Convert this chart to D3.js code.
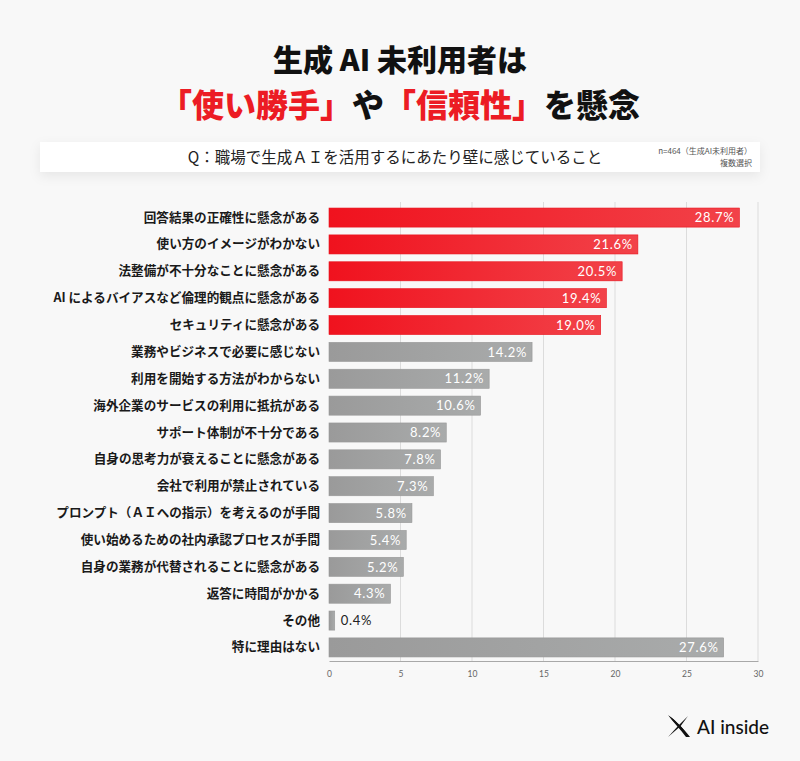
<!DOCTYPE html>
<html>
<head>
	<meta charset="utf-8">
	<title></title>
	<style>
		body { margin: 0; background: #f8f8f8; }
		svg { display: block; }
	</style>
</head>
<body>
	<svg id="container" height="761" width="800"></svg>
</body>
<script src="https://d3js.org/d3.v7.min.js"></script>
<script>
	let categories = [
		"回答結果の正確性に懸念がある",
		"使い方のイメージがわかない",
		"法整備が不十分なことに懸念がある",
		"AI によるバイアスなど倫理的観点に懸念がある",
		"セキュリティに懸念がある",
		"業務やビジネスで必要に感じない",
		"利用を開始する方法がわからない",
		"海外企業のサービスの利用に抵抗がある",
		"サポート体制が不十分である",
		"自身の思考力が衰えることに懸念がある",
		"会社で利用が禁止されている",
		"プロンプト（ＡＩへの指示）を考えるのが手間",
		"使い始めるための社内承認プロセスが手間",
		"自身の業務が代替されることに懸念がある",
		"返答に時間がかかる",
		"その他",
		"特に理由はない"
	]
	let values = [28.7, 21.6, 20.5, 19.4, 19.0, 14.2, 11.2, 10.6, 8.2, 7.8, 7.3, 5.8, 5.4, 5.2, 4.3, 0.4, 27.6]
	// top five are drawn in red
	let highlighted = categories.slice(0, 5)
	let ticks = [0, 5, 10, 15, 20, 25, 30]

	let jp = "'Noto Sans CJK JP', sans-serif"
	let num = "Lato, 'DejaVu Sans', sans-serif"

	let svg = d3.select("#container")
	let defs = svg.append("defs")

	let redGrad = defs.append("linearGradient").attr("id", "red")
	redGrad.append("stop").attr("offset", "0%").attr("stop-color", "#f0121e")
	redGrad.append("stop").attr("offset", "100%").attr("stop-color", "#f24249")
	let grayGrad = defs.append("linearGradient").attr("id", "gray")
	grayGrad.append("stop").attr("offset", "0%").attr("stop-color", "#9a9a9a")
	grayGrad.append("stop").attr("offset", "100%").attr("stop-color", "#a9abab")

	let shadow = defs.append("filter").attr("id", "shadow")
		.attr("x", "-5%").attr("y", "-50%").attr("width", "110%").attr("height", "250%")
	shadow.append("feDropShadow")
		.attr("dx", 0).attr("dy", 4).attr("stdDeviation", 6)
		.attr("flood-color", "#000").attr("flood-opacity", 0.07)

	// title
	svg.append("text")
		.attr("x", 400).attr("y", 71)
		.attr("text-anchor", "middle")
		.style("font-family", jp).style("font-weight", 900)
		.style("font-size", "30px").attr("fill", "#111")
		.text("生成 AI 未利用者は")

	let t2 = svg.append("text")
		.attr("x", 400).attr("y", 117)
		.attr("text-anchor", "middle")
		.style("font-family", jp).style("font-weight", 900)
		.style("font-size", "32px")
	t2.append("tspan").attr("fill", "#ec1c24").text("「使い勝手」")
	t2.append("tspan").attr("fill", "#111").text("や")
	t2.append("tspan").attr("fill", "#ec1c24").text("「信頼性」")
	t2.append("tspan").attr("fill", "#111").text("を懸念")

	// question box
	svg.append("rect")
		.attr("x", 40).attr("y", 142).attr("width", 720).attr("height", 30)
		.attr("fill", "#fff").attr("filter", "url(#shadow)")
	svg.append("text")
		.attr("x", 395).attr("y", 163)
		.attr("text-anchor", "middle")
		.style("font-family", jp).style("font-size", "15.5px")
		.attr("fill", "#222")
		.text("Q：職場で生成ＡＩを活用するにあたり壁に感じていること")
	svg.append("text")
		.attr("x", 752).attr("y", 154)
		.attr("text-anchor", "end")
		.style("font-family", jp).style("font-size", "8px")
		.attr("fill", "#555")
		.text("n=464（生成AI未利用者）")
	svg.append("text")
		.attr("x", 752).attr("y", 166)
		.attr("text-anchor", "end")
		.style("font-family", jp).style("font-size", "8px")
		.attr("fill", "#555")
		.text("複数選択")

	// chart
	let chartLeft = 329, chartRight = 758, chartTop = 204, chartBottom = 661

	let x = d3.scaleLinear().domain([0, 30]).range([chartLeft, chartRight])
	let y = d3.scaleBand().domain(categories).range([chartTop, chartBottom]).paddingInner(0.29).paddingOuter(0.15)

	let body = svg.append("g")

	body.selectAll(".grid")
		.data(ticks.slice(1))
		.enter().append("line")
		.attr("x1", d => x(d)).attr("x2", d => x(d))
		.attr("y1", chartTop - 2).attr("y2", chartBottom)
		.attr("stroke", "#dcdcdc").attr("stroke-width", 1)

	body.selectAll(".bar")
		.data(categories)
		.enter().append("rect")
		.attr("x", x(0))
		.attr("y", d => y(d))
		.attr("height", y.bandwidth())
		.attr("width", (d, i) => x(values[i]) - x(0))
		.attr("fill", d => highlighted.includes(d) ? "url(#red)" : "url(#gray)")
		.attr("stroke", d => highlighted.includes(d) ? "#e8131d" : "#979797")
		.attr("stroke-width", 0.6)

	body.selectAll(".value")
		.data(categories)
		.enter().append("text")
		.attr("x", (d, i) => x(values[i]) - x(0) > 30 ? x(values[i]) - 5 : x(values[i]) + 6)
		.attr("y", d => y(d) + y.bandwidth() / 2)
		.attr("dy", "0.36em")
		.attr("text-anchor", (d, i) => x(values[i]) - x(0) > 30 ? "end" : "start")
		.style("font-family", num).style("font-size", "13px")
		.style("letter-spacing", "0.7px")
		.attr("fill", (d, i) => x(values[i]) - x(0) > 30 ? "#fff" : "#222")
		.text((d, i) => values[i].toFixed(1) + "%")

	let yAxis = body.append("g")
		.attr("transform", `translate(${chartLeft - 9},0)`)
		.call(d3.axisLeft(y).tickSize(0).tickPadding(0))
	yAxis.select(".domain").remove()
	yAxis.selectAll("text")
		.style("font-family", jp).style("font-size", "12.6px").style("font-weight", 700)
		.attr("fill", "#1a1a1a")

	let xAxis = body.append("g")
		.attr("transform", `translate(0,${chartBottom})`)
		.call(d3.axisBottom(x).tickValues(ticks).tickSize(0).tickPadding(10))
	xAxis.select(".domain").attr("stroke", "#a8a8a8").attr("stroke-width", 1.2)
	xAxis.selectAll("text")
		.style("font-family", num).style("font-size", "8.5px")
		.attr("fill", "#666")

	// logo
	let logo = svg.append("g").attr("transform", "translate(668,715)")
	logo.append("path")
		.attr("d", "M0,0 C8,6 14,12 22,22 L18,22 C12,14 6,8 0,0 Z")
		.attr("fill", "#111")
	logo.append("path")
		.attr("d", "M1,1 C6,4 12,10 22,22 C14,14 8,10 1,1 Z")
		.attr("fill", "#111")
	logo.append("path")
		.attr("d", "M20,1 L12,9 L10,11 L0,22 L11,12.5 L13,10.5 Z")
		.attr("fill", "#111")
	svg.append("text")
		.attr("x", 697).attr("y", 734)
		.style("font-family", "Lato, 'DejaVu Sans', sans-serif")
		.style("font-size", "19px").style("font-weight", 500)
		.attr("fill", "#111")
		.text("AI inside")
</script>
</html>
